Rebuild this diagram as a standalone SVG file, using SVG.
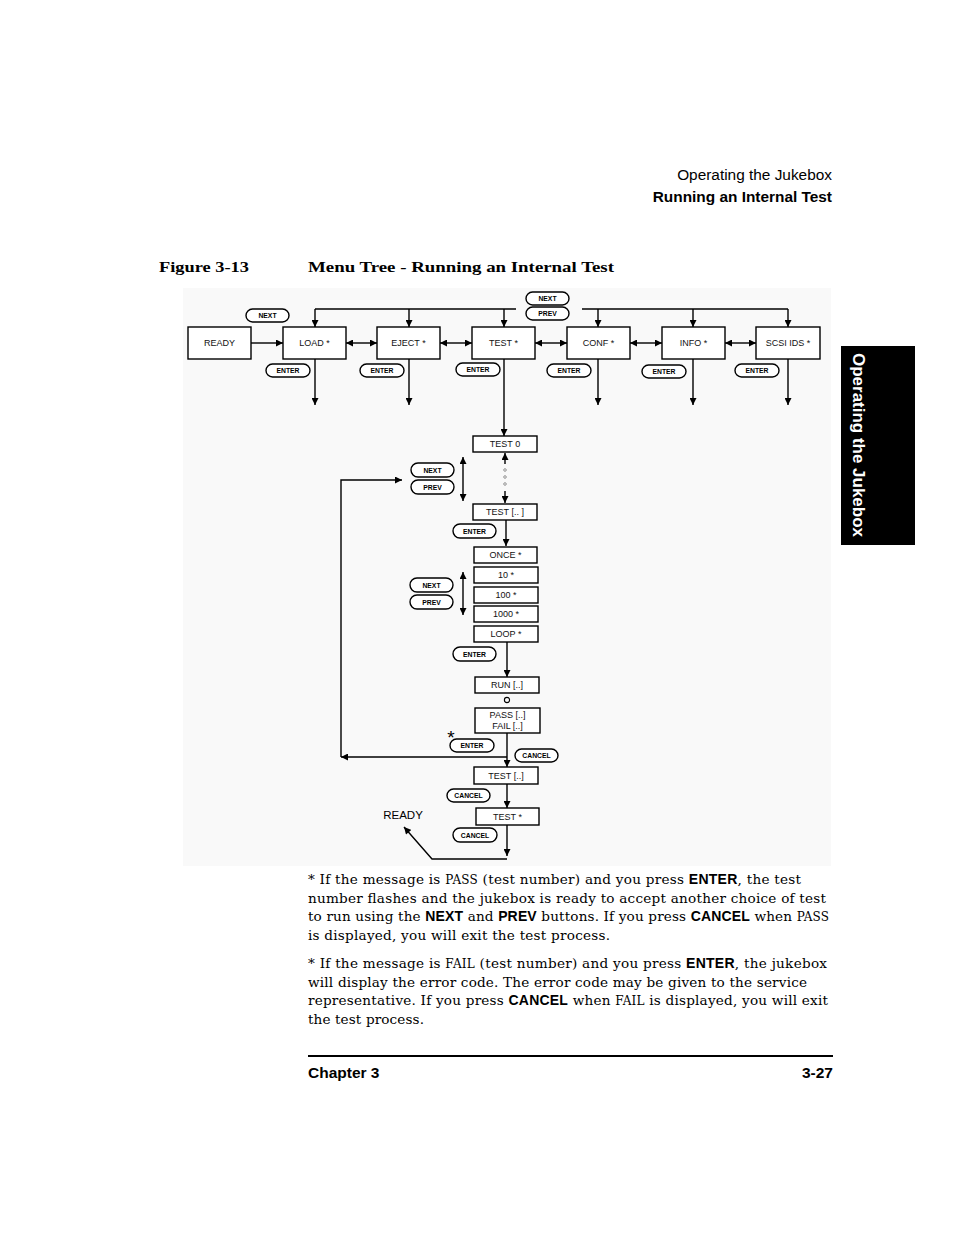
<svg xmlns="http://www.w3.org/2000/svg" width="954" height="1235" viewBox="0 0 954 1235">
<defs>
<style>
.box{fill:#fff;stroke:#000;stroke-width:1.4}
.pill{fill:#fff;stroke:#000;stroke-width:1.4}
.bl{font-family:"Liberation Sans",Arial,sans-serif;font-size:9px;text-anchor:middle;fill:#111}
.pl{font-family:"Liberation Sans",Arial,sans-serif;font-size:6.8px;font-weight:bold;text-anchor:middle;fill:#000}
.ln{fill:none;stroke:#000;stroke-width:1.4}
.body{font-family:"DejaVu Serif","Liberation Serif",serif;font-size:13.6px;fill:#000}
.sb{font-family:"Liberation Sans",Arial,sans-serif;font-weight:bold;font-size:14px}
.sc{font-size:12px}
.hdr{font-family:"Liberation Sans",Arial,sans-serif;font-size:15.4px;fill:#000}
</style>
<marker id="ah" viewBox="0 0 10 10" refX="10" refY="5" markerWidth="8" markerHeight="7" markerUnits="userSpaceOnUse" orient="auto-start-reverse"><path d="M0,0 L10,5 L0,10 z" fill="#000"/></marker>
</defs>
<rect width="954" height="1235" fill="#fff"/>

<!-- header -->
<text class="hdr" x="832" y="180" text-anchor="end">Operating the Jukebox</text>
<text class="hdr" x="832" y="202" text-anchor="end" font-weight="bold">Running an Internal Test</text>
<text x="159" y="272" font-family="Liberation Serif,serif" font-weight="bold" font-size="15.5" textLength="90" lengthAdjust="spacingAndGlyphs">Figure 3-13</text>
<text x="308" y="272" font-family="Liberation Serif,serif" font-weight="bold" font-size="15.5" textLength="306" lengthAdjust="spacingAndGlyphs">Menu Tree - Running an Internal Test</text>

<!-- side tab -->
<rect x="841" y="346" width="74" height="199" fill="#000"/>
<text transform="translate(853,445) rotate(90)" font-family="Liberation Sans,Arial,sans-serif" font-weight="bold" font-size="16" fill="#fff" text-anchor="middle" textLength="184" lengthAdjust="spacingAndGlyphs">Operating the Jukebox</text>

<!-- diagram background -->
<rect x="183" y="288" width="648" height="578" fill="#f9f9f9"/>

<g id="connectors">
<!-- top row -->
<line class="ln" x1="251" y1="343" x2="283" y2="343" marker-end="url(#ah)"/>
<line class="ln" x1="346" y1="343" x2="377" y2="343" marker-start="url(#ah)" marker-end="url(#ah)"/>
<line class="ln" x1="440" y1="343" x2="472" y2="343" marker-start="url(#ah)" marker-end="url(#ah)"/>
<line class="ln" x1="535" y1="343" x2="567" y2="343" marker-start="url(#ah)" marker-end="url(#ah)"/>
<line class="ln" x1="630" y1="343" x2="662" y2="343" marker-start="url(#ah)" marker-end="url(#ah)"/>
<line class="ln" x1="725" y1="343" x2="756" y2="343" marker-start="url(#ah)" marker-end="url(#ah)"/>
<polyline class="ln" points="315,309 516,309"/>
<polyline class="ln" points="582,309 788,309"/>
<line class="ln" x1="315" y1="309" x2="315" y2="327" marker-end="url(#ah)"/>
<line class="ln" x1="409" y1="309" x2="409" y2="327" marker-end="url(#ah)"/>
<line class="ln" x1="504" y1="309" x2="504" y2="327" marker-end="url(#ah)"/>
<line class="ln" x1="598" y1="309" x2="598" y2="327" marker-end="url(#ah)"/>
<line class="ln" x1="693" y1="309" x2="693" y2="327" marker-end="url(#ah)"/>
<line class="ln" x1="788" y1="309" x2="788" y2="327" marker-end="url(#ah)"/>
<line class="ln" x1="315" y1="359" x2="315" y2="405" marker-end="url(#ah)"/>
<line class="ln" x1="409" y1="359" x2="409" y2="405" marker-end="url(#ah)"/>
<line class="ln" x1="598" y1="359" x2="598" y2="405" marker-end="url(#ah)"/>
<line class="ln" x1="693" y1="359" x2="693" y2="405" marker-end="url(#ah)"/>
<line class="ln" x1="788" y1="359" x2="788" y2="405" marker-end="url(#ah)"/>
<line class="ln" x1="504" y1="359" x2="504" y2="436" marker-end="url(#ah)"/>
<!-- test list -->
<line class="ln" x1="505" y1="464" x2="505" y2="453" marker-end="url(#ah)"/>
<line class="ln" x1="505" y1="491" x2="505" y2="503" marker-end="url(#ah)"/>
<circle cx="505" cy="470" r="1.3" fill="none" stroke="#555" stroke-width="0.6"/>
<circle cx="505" cy="477" r="1.3" fill="none" stroke="#555" stroke-width="0.6"/>
<circle cx="505" cy="484" r="1.3" fill="none" stroke="#555" stroke-width="0.6"/>
<line class="ln" x1="463" y1="457" x2="463" y2="501" marker-start="url(#ah)" marker-end="url(#ah)"/>
<line class="ln" x1="506" y1="520" x2="506" y2="546" marker-end="url(#ah)"/>
<line class="ln" x1="463" y1="572" x2="463" y2="615" marker-start="url(#ah)" marker-end="url(#ah)"/>
<line class="ln" x1="507" y1="642" x2="507" y2="677" marker-end="url(#ah)"/>
<line class="ln" x1="507" y1="733" x2="507" y2="767" marker-end="url(#ah)"/>
<line class="ln" x1="507" y1="757" x2="341" y2="757" marker-end="url(#ah)"/>
<polyline class="ln" points="341,757 341,480 402,480" marker-end="url(#ah)"/>
<line class="ln" x1="507" y1="784" x2="507" y2="808" marker-end="url(#ah)"/>
<line class="ln" x1="507" y1="825" x2="507" y2="856" marker-end="url(#ah)"/>
<polyline class="ln" points="507,859 432,859 404,827" marker-end="url(#ah)"/>
</g>

<!-- top row nodes -->
<g id="ready"><rect class="box" x="188" y="327" width="63" height="32"/><text class="bl" x="219.5" y="346">READY</text></g>
<g id="load"><rect class="box" x="283" y="327" width="63" height="32"/><text class="bl" x="314.5" y="346">LOAD *</text></g>
<g id="eject"><rect class="box" x="377" y="327" width="63" height="32"/><text class="bl" x="408.5" y="346">EJECT *</text></g>
<g id="test"><rect class="box" x="472" y="327" width="63" height="32"/><text class="bl" x="503.5" y="346">TEST *</text></g>
<g id="conf"><rect class="box" x="567" y="327" width="63" height="32"/><text class="bl" x="598.5" y="346">CONF *</text></g>
<g id="info"><rect class="box" x="662" y="327" width="63" height="32"/><text class="bl" x="693.5" y="346">INFO *</text></g>
<g id="scsi"><rect class="box" x="756" y="327" width="64" height="32"/><text class="bl" x="788" y="346">SCSI IDS *</text></g>

<!-- top pills -->
<g id="next-top-left"><rect class="pill" x="246" y="309" width="43" height="13" rx="6.5"/><text class="pl" x="267.5" y="318">NEXT</text></g>
<g id="next-top"><rect class="pill" x="526" y="292" width="43" height="13" rx="6.5"/><text class="pl" x="547.5" y="301">NEXT</text></g>
<g id="prev-top"><rect class="pill" x="526" y="307" width="43" height="13" rx="6.5"/><text class="pl" x="547.5" y="316">PREV</text></g>
<g id="enter-load"><rect class="pill" x="266" y="364" width="44" height="13" rx="6.5"/><text class="pl" x="288" y="373">ENTER</text></g>
<g id="enter-eject"><rect class="pill" x="360" y="364" width="44" height="13" rx="6.5"/><text class="pl" x="382" y="373">ENTER</text></g>
<g id="enter-test"><rect class="pill" x="456" y="363" width="44" height="13" rx="6.5"/><text class="pl" x="478" y="372">ENTER</text></g>
<g id="enter-conf"><rect class="pill" x="547" y="364" width="44" height="13" rx="6.5"/><text class="pl" x="569" y="373">ENTER</text></g>
<g id="enter-info"><rect class="pill" x="642" y="365" width="44" height="13" rx="6.5"/><text class="pl" x="664" y="374">ENTER</text></g>
<g id="enter-scsi"><rect class="pill" x="735" y="364" width="44" height="13" rx="6.5"/><text class="pl" x="757" y="373">ENTER</text></g>

<!-- test column -->
<g id="test0"><rect class="box" x="473" y="436" width="64" height="16"/><text class="bl" x="505" y="447">TEST 0</text></g>
<g id="next-1"><rect class="pill" x="411" y="463" width="43" height="14" rx="7"/><text class="pl" x="432.5" y="472.5">NEXT</text></g>
<g id="prev-1"><rect class="pill" x="411" y="480" width="43" height="14" rx="7"/><text class="pl" x="432.5" y="489.5">PREV</text></g>
<g id="testn"><rect class="box" x="473" y="504" width="64" height="16"/><text class="bl" x="505" y="515">TEST [.. ]</text></g>
<g id="enter-testn"><rect class="pill" x="453" y="524" width="43" height="14" rx="7"/><text class="pl" x="474.5" y="533.5">ENTER</text></g>
<g id="once"><rect class="box" x="474" y="547" width="63" height="16"/><text class="bl" x="505.5" y="558">ONCE *</text></g>
<g id="n10"><rect class="box" x="474" y="567" width="64" height="16"/><text class="bl" x="506" y="578">10 *</text></g>
<g id="n100"><rect class="box" x="474" y="587" width="64" height="16"/><text class="bl" x="506" y="598">100 *</text></g>
<g id="n1000"><rect class="box" x="474" y="606" width="64" height="16"/><text class="bl" x="506" y="617">1000 *</text></g>
<g id="loop"><rect class="box" x="474" y="626" width="64" height="16"/><text class="bl" x="506" y="637">LOOP *</text></g>
<g id="next-2"><rect class="pill" x="410" y="578" width="43" height="14" rx="7"/><text class="pl" x="431.5" y="587.5">NEXT</text></g>
<g id="prev-2"><rect class="pill" x="410" y="595" width="43" height="14" rx="7"/><text class="pl" x="431.5" y="604.5">PREV</text></g>
<g id="enter-loop"><rect class="pill" x="453" y="647" width="43" height="14" rx="7"/><text class="pl" x="474.5" y="656.5">ENTER</text></g>
<g id="run"><rect class="box" x="475" y="677" width="64" height="16"/><text class="bl" x="507" y="688">RUN [..]</text></g>
<circle cx="507" cy="700" r="2.6" fill="none" stroke="#000" stroke-width="1.1"/>
<g id="passfail"><rect class="box" x="475" y="708" width="65" height="25"/><text class="bl" x="507.5" y="718">PASS [..]</text><text class="bl" x="507.5" y="729">FAIL [..]</text></g>
<text x="451" y="744" font-family="Liberation Sans,Arial,sans-serif" font-size="19" text-anchor="middle">*</text>
<g id="enter-pf"><rect class="pill" x="450" y="739" width="44" height="13" rx="6.5"/><text class="pl" x="472" y="748">ENTER</text></g>
<g id="cancel-1"><rect class="pill" x="515" y="749" width="43" height="13" rx="6.5"/><text class="pl" x="536.5" y="758">CANCEL</text></g>
<g id="testn2"><rect class="box" x="474" y="767" width="64" height="17"/><text class="bl" x="506" y="779">TEST [..]</text></g>
<g id="cancel-2"><rect class="pill" x="447" y="789" width="43" height="13" rx="6.5"/><text class="pl" x="468.5" y="798">CANCEL</text></g>
<g id="teststar"><rect class="box" x="476" y="808" width="63" height="17"/><text class="bl" x="507.5" y="820">TEST *</text></g>
<g id="cancel-3"><rect class="pill" x="453" y="828" width="44" height="14" rx="7"/><text class="pl" x="475" y="837.5">CANCEL</text></g>
<text x="403" y="819" font-family="Liberation Sans,Arial,sans-serif" font-size="11.5" text-anchor="middle">READY</text>

<!-- body text -->
<g class="body">
<text x="308" y="884" textLength="493" lengthAdjust="spacing">* If the message is <tspan class="sc">PASS</tspan> (test number) and you press <tspan class="sb">ENTER</tspan>, the test</text>
<text x="308" y="903" textLength="518" lengthAdjust="spacing">number flashes and the jukebox is ready to accept another choice of test</text>
<text x="308" y="921" textLength="521" lengthAdjust="spacing">to run using the <tspan class="sb">NEXT</tspan> and <tspan class="sb">PREV</tspan> buttons. If you press <tspan class="sb">CANCEL</tspan> when <tspan class="sc">PASS</tspan></text>
<text x="308" y="940" textLength="302" lengthAdjust="spacing">is displayed, you will exit the test process.</text>
<text x="308" y="968" textLength="519" lengthAdjust="spacing">* If the message is <tspan class="sc">FAIL</tspan> (test number) and you press <tspan class="sb">ENTER</tspan>, the jukebox</text>
<text x="308" y="987" textLength="499" lengthAdjust="spacing">will display the error code. The error code may be given to the service</text>
<text x="308" y="1005" textLength="520" lengthAdjust="spacing">representative. If you press <tspan class="sb">CANCEL</tspan> when <tspan class="sc">FAIL</tspan> is displayed, you will exit</text>
<text x="308" y="1024" textLength="116" lengthAdjust="spacing">the test process.</text>
</g>

<!-- footer -->
<line x1="308" y1="1056" x2="833" y2="1056" stroke="#000" stroke-width="2"/>
<text x="308" y="1078" font-family="Liberation Sans,Arial,sans-serif" font-weight="bold" font-size="15.5">Chapter 3</text>
<text x="833" y="1078" font-family="Liberation Sans,Arial,sans-serif" font-weight="bold" font-size="15.5" text-anchor="end">3-27</text>
</svg>
